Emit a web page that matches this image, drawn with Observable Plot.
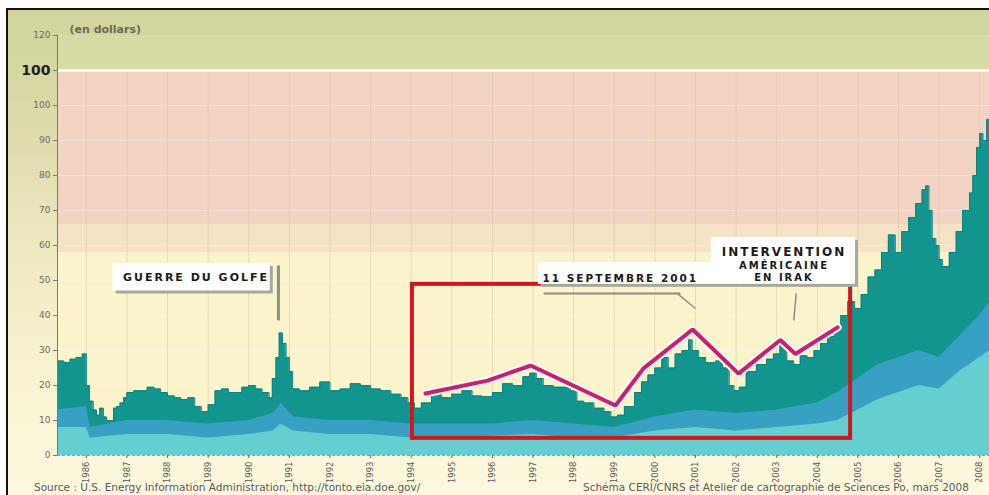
<!DOCTYPE html>
<html><head><meta charset="utf-8">
<script src="https://cdn.jsdelivr.net/npm/d3@7"></script>
<script src="https://cdn.jsdelivr.net/npm/@observablehq/plot@0.6"></script>
<style>
body{margin:0;background:#fff;}
#wrap{position:relative;width:989px;height:495px;overflow:hidden;background:#fff;font-family:"DejaVu Sans",sans-serif}
#frame{position:absolute;left:6px;top:8px;width:990px;height:495px;border-left:2px solid #111;border-top:2px solid #111;
 background:linear-gradient(to bottom,#d2d49c 0px,#d5d7a2 60px,#e2ddb2 150px,#f1ebc4 260px,#faf5d4 400px,#fcf8df 487px);}
#chart{position:absolute;left:0;top:0}
.cap{position:absolute;top:481px;font-size:10.5px;line-height:13px;color:#5a5a5a;white-space:nowrap;font-family:"DejaVu Sans",sans-serif}
</style></head>
<body>
<div id="wrap">
  <div id="frame"></div>
  <div id="chart"></div>
  <div class="cap" style="left:34px">Source : U.S. Energy Information Administration, http://tonto.eia.doe.gov/</div>
  <div class="cap" style="left:583px">Schéma CERI/CNRS et Atelier de cartographie de Sciences Po, mars 2008</div>
</div>
<script>
// ---- data ----
const yearTicks = d3.range(1986, 2009);
const yTicks = [0,10,20,30,40,50,60,70,80,90,100,110,120];

const priceT = [1985.29,1985.45,1985.6,1985.75,1985.9,1986.0,1986.08,1986.17,1986.25,1986.33,1986.42,1986.5,1986.58,1986.67,1986.75,1986.83,1986.92,
 1987.0,1987.17,1987.33,1987.5,1987.67,1987.83,1988.0,1988.17,1988.33,1988.5,1988.67,1988.83,1989.0,1989.17,1989.33,1989.5,1989.67,1989.83,
 1990.0,1990.17,1990.33,1990.5,1990.58,1990.67,1990.75,1990.83,1990.92,1991.0,1991.08,1991.25,1991.5,1991.75,1992.0,1992.25,1992.5,1992.75,
 1993.0,1993.25,1993.5,1993.75,1993.92,1994.08,1994.25,1994.5,1994.75,1995.0,1995.25,1995.5,1995.75,1996.0,1996.25,1996.5,1996.75,1996.92,
 1997.08,1997.25,1997.5,1997.75,1997.92,1998.08,1998.25,1998.5,1998.75,1998.92,1999.08,1999.25,1999.5,1999.67,1999.83,2000.0,2000.17,2000.33,
 2000.5,2000.67,2000.83,2000.92,2001.08,2001.25,2001.5,2001.67,2001.83,2001.95,2002.08,2002.25,2002.5,2002.75,2002.92,2003.08,2003.25,2003.42,
 2003.58,2003.75,2003.92,2004.08,2004.25,2004.42,2004.58,2004.75,2004.92,2005.08,2005.25,2005.42,2005.58,2005.75,2005.92,2006.08,2006.25,
 2006.42,2006.58,2006.67,2006.75,2006.83,2006.92,2007.0,2007.08,2007.25,2007.42,2007.58,2007.75,2007.83,2007.92,2008.0,2008.08,2008.17,2008.25];
const price = [27,26.5,27.5,28,29,20,15.5,13,11.5,13.5,11,10,10,13.5,14,15,16.5,
 18,18.5,18.5,19.5,19,18,17,16.5,16,16.5,14,12.5,14.5,18.5,19,18,18,19.5,
 20,19,18,16.5,22,28,35,32,28,24,19,18.5,19.5,21,18.5,19,20.5,20,
 19,18.5,17.5,16.5,15,13.5,15,17.5,16.5,17.5,18.5,17,16.8,18,20.5,20,22.5,23.5,
 22,20,19.5,19.5,18.5,15.5,15,13.5,12.5,11,11.5,14,18,21,23,25,28,25,
 29,30,33,30,28,26.5,27,25,20,18.5,19.5,24,26,27.5,29,32,27,26,
 28.5,28,30,32,34,37,40,44,42,46,51,53,58,63,58,64,68,
 72,76,77,70,62,60,56,54,58,64,70,75,80,88,92,90,96,99];

const layerT   = [1985.29,1986.0,1986.1,1987,1988,1989,1990,1990.6,1990.8,1991.1,1992,1993,1994,1995,1996,1997,1998,1999,2000,2001,2002,2003,2004,2004.5,2005,2005.5,2006,2006.5,2007,2007.5,2008,2008.25];
const baseLayer= [8,8,5,6,6,5,6,7,9,7,6,6,5,5,5.5,6,5,5,7,8,7,8,9,10,13,16,18,20,19,24,28,30];
const midLayer = [13,14,8,10,10,9,10,12,15,11,10,10,9,9,9,10,9,8,11,13,12,13,15,18,22,26,28,30,28,34,40,44];

const trendT = [1994.35,1995.88,1996.94,1999.03,1999.72,2000.93,2002.06,2003.09,2003.46,2004.5];
const trendV = [17.7,21.4,25.7,14.3,24.9,36,23.4,33,29,36.6];

const focusPeriod = [1994.03, 2004.82];
const focusRange = [4.9, 48.9];

const boxX1 = [1986.66, 1997.13, 2001.39];
const boxX2 = [1990.53, 2001.42, 2004.94];
const boxY1 = [47.0, 48.9, 48.9];
const boxY2 = [54.9, 55.1, 62.3];

const annoText = ["GUERRE DU GOLFE","11 SEPTEMBRE 2001","INTERVENTION","AMÉRICAINE","EN IRAK"];
const annoX = [1988.70, 1999.15, 2003.18, 2003.18, 2003.18];
const annoY = [50.9, 50.4, 58.0, 54.3, 50.9];
const annoSize = [11, 10.5, 12, 10, 10];

const ptrX1 = [1990.73, 2000.55, 2003.48, 1997.26];
const ptrY1 = [54.3, 46.3, 46.3, 46.3];
const ptrX2 = [1990.73, 2001.0, 2003.42, 2000.63];
const ptrY2 = [38.6, 42.0, 38.6, 46.3];
const ptrW  = [3, 1.5, 1.5, 2];

const bandLow  = [0, 58, 66, 110];
const bandHigh = [58, 66, 110, 120];

// ---- style ----
const X0 = 1985.29, X1 = 2008.24;
const bandColors = ["#faf3cc", "#f6e3c7", "#f3d4c4", "#d8daa6"];

const idx = a => d3.range(a.length);

const bandMarks = bandLow.map((lo, i) =>
  Plot.rect([i], {x1: () => X0, x2: () => X1, y1: j => bandLow[j], y2: j => bandHigh[j], fill: bandColors[i]}));

const chart = Plot.plot({
  width: 989, height: 482,
  marginLeft: 57, marginRight: 0, marginTop: 35, marginBottom: 27,
  x: {domain: [X0, X1]},
  y: {domain: [0, 120]},
  style: {background: "transparent", fontFamily: "DejaVu Sans, sans-serif"},
  marks: [
    ...bandMarks,
    Plot.ruleY(d3.range(10, 110, 10), {stroke: "#ffffff", strokeOpacity: 0.3}),
    Plot.ruleX(yearTicks, {y1: 0, y2: 110, stroke: "#d2c69a", strokeOpacity: 0.5}),
    Plot.ruleY([110], {stroke: "#fbf8ef", strokeWidth: 3}),
    Plot.areaY(idx(priceT), {x: i => priceT[i], y: i => price[i], fill: "#12958f", curve: "step-after"}),
    Plot.line(idx(priceT), {x: i => priceT[i], y: i => price[i], stroke: "#0d817c", strokeWidth: 1, curve: "step-after"}),
    Plot.areaY(idx(layerT), {x: i => layerT[i], y: i => midLayer[i], fill: "#38a0c2"}),
    Plot.areaY(idx(layerT), {x: i => layerT[i], y: i => baseLayer[i], fill: "#66cdd1"}),
    // axes
    Plot.ruleX([X0], {y1: 0, y2: 120, stroke: "#7a7a68"}),
    Plot.ruleY([0], {stroke: "#9a9a90", strokeDasharray: "3,2"}),
    Plot.axisY({ticks: yTicks, tickFormat: d => d === 110 ? "" : String(d), tickSize: 4, tickPadding: 3, fontSize: 9, fill: "#6a6a60", stroke: "#7a7a68", label: null}),
    Plot.text([110], {x: () => X0, y: d => d, text: () => "100", dx: -7, textAnchor: "end", fontSize: 14, fontWeight: "bold", fill: "#1e1e1e"}),
    Plot.axisX({ticks: yearTicks, tickFormat: d => String(d), tickRotate: -90, tickSize: 3, tickPadding: 3, fontSize: 8.5, fill: "#5a5a5a", stroke: "#666", label: null}),
    Plot.text(["(en dollars)"], {frameAnchor: "top-left", dx: 12, dy: -10, text: d => d, textAnchor: "start", fontSize: 11, fontWeight: "bold", fill: "#6e6a52"}),
    // focus frame and trend
    Plot.rect([0], {x1: () => focusPeriod[0], x2: () => focusPeriod[1], y1: () => focusRange[0], y2: () => focusRange[1], fill: "none", stroke: "#d3161d", strokeWidth: 4}),
    Plot.line(idx(trendT), {x: i => trendT[i], y: i => trendV[i], stroke: "#fff6f6", strokeWidth: 8, strokeLinejoin: "miter"}),
    Plot.line(idx(trendT), {x: i => trendT[i], y: i => trendV[i], stroke: "#c91f6c", strokeWidth: 4, strokeLinejoin: "miter"}),
    // annotations
    Plot.link(idx(ptrX1), {x1: i => ptrX1[i], y1: i => ptrY1[i], x2: i => ptrX2[i], y2: i => ptrY2[i], stroke: "#8e8e84", strokeWidth: i => ptrW[i]}),
    Plot.rect(idx(boxX1), {x1: i => boxX1[i], x2: i => boxX2[i], y1: i => boxY1[i], y2: i => boxY2[i], fill: "#a8a89a", dx: 3, dy: 3}),
    Plot.rect(idx(boxX1), {x1: i => boxX1[i], x2: i => boxX2[i], y1: i => boxY1[i], y2: i => boxY2[i], fill: "#ffffff"}),
    Plot.text(idx(annoText), {x: i => annoX[i], y: i => annoY[i], text: i => annoText[i], fontSize: i => annoSize[i], fontWeight: "bold", fill: "#1a1a1a"})
  ]
});
d3.select(chart).selectAll("text")
  .filter(function() { return annoText.includes(this.textContent); })
  .style("letter-spacing", "2px");
document.getElementById("chart").appendChild(chart);
</script>
</body></html>
